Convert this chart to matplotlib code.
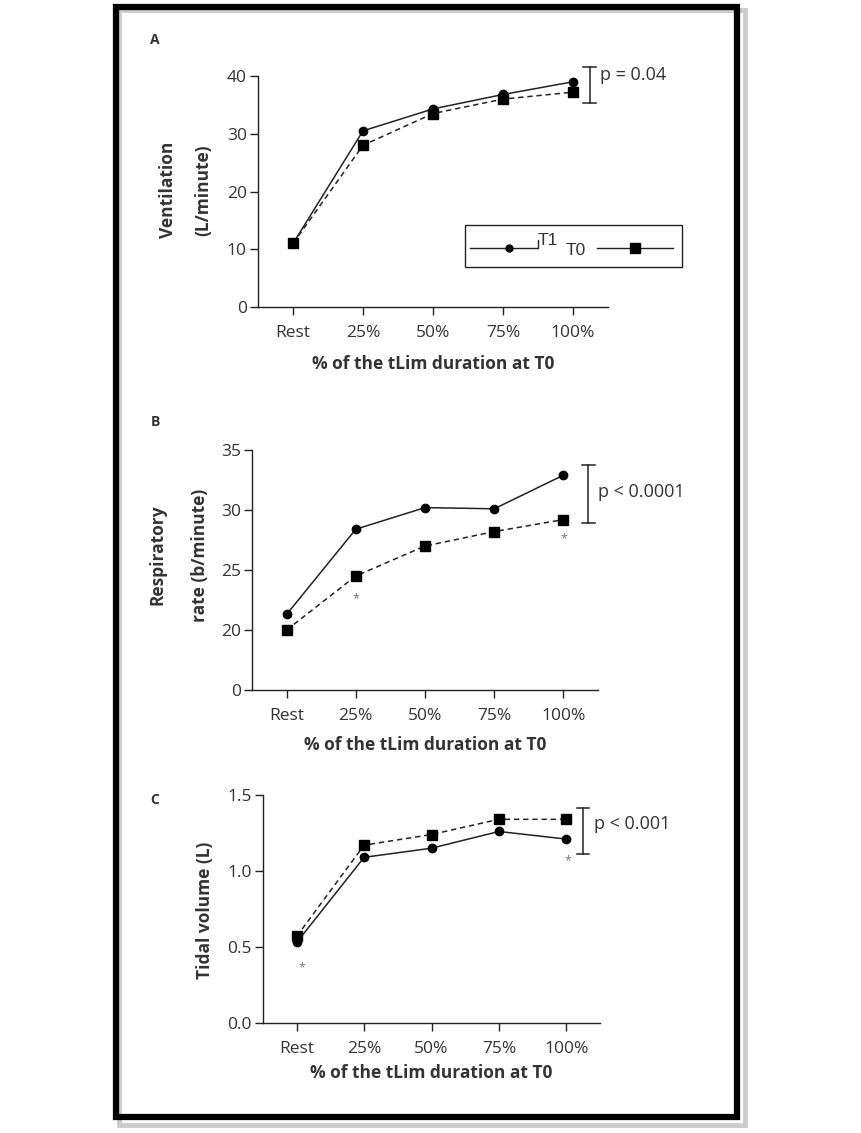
import matplotlib
matplotlib.use('Agg')
import matplotlib.pyplot as plt
from matplotlib.patches import Rectangle
from matplotlib.lines import Line2D

plt.rcParams['font.family'] = ['Open Sans', 'DejaVu Sans']

categories = ['Rest', '25%', '50%', '75%', '100%']

# Panel A - ventilation (L/minute)
vent_t1 = [11.0, 30.5, 34.3, 36.8, 39.0]
vent_t0 = [11.0, 28.0, 33.5, 36.0, 37.2]

# Panel B - respiratory rate (b/minute)
rr_t1 = [21.3, 28.4, 30.2, 30.1, 32.9]
rr_t0 = [20.0, 24.5, 27.0, 28.2, 29.2]

# Panel C - tidal volume (L)
vt_t1 = [0.53, 1.09, 1.15, 1.26, 1.21]
vt_t0 = [0.57, 1.17, 1.24, 1.34, 1.34]

W, H = 862, 1133
fig = plt.figure(figsize=(W / 100, H / 100), dpi=100)

ink = '#222222'
txt = '#333333'
xlab = '% of the tLim duration at T0'


def px_axes(left, right, top, bottom):
    return fig.add_axes([left / W, 1 - bottom / H, (right - left) / W, (bottom - top) / H])


def style(ax, xlabel_y):
    for s in ['top', 'right']:
        ax.spines[s].set_visible(False)
    for s in ['left', 'bottom']:
        ax.spines[s].set_color(ink)
        ax.spines[s].set_linewidth(1.0)
    ax.tick_params(direction='out', length=6, width=1.0, color=ink,
                   labelsize=12.5, labelcolor=txt, pad=2)
    ax.set_xlim(-0.5, 4.5)
    ax.set_xticks(range(len(categories)))
    ax.set_xticklabels(categories)
    ax.tick_params(axis='x', pad=7)
    ax.set_xlabel(xlab, fontsize=12.5, fontweight='bold', color=txt, va='center')
    ax.xaxis.set_label_coords(0.5, xlabel_y)


def draw_series(ax, t1, t0):
    x = range(len(categories))
    ax.plot(x, t1, '-', color=ink, lw=1.1, marker='o', ms=6, mfc='black', mec='black',
            clip_on=False, zorder=3)
    ax.plot(x, t0, '--', color=ink, lw=1.1, dashes=(3.5, 2.5), marker='s', ms=7.5,
            mfc='black', mec='black', clip_on=False, zorder=3)


def bracket(ax, x, y0, y1, label, tx, ty):
    ax.plot([x, x], [y0, y1], color=ink, lw=1.1, clip_on=False)
    for y in (y0, y1):
        ax.plot([x - 0.09, x + 0.09], [y, y], color=ink, lw=1.1, clip_on=False)
    ax.text(tx, ty, label, fontsize=13, color=txt, va='center', ha='left')


# ---- Panel A
axA = px_axes(258, 608, 76, 307)
style(axA, (307 - 364) / 231)
draw_series(axA, vent_t1, vent_t0)
axA.set_ylim(0, 40)
axA.set_yticks([0, 10, 20, 30, 40])
bracket(axA, 4.24, 35.3, 41.6, 'p = 0.04', 4.38, 40.2)

# legend box drawn by hand (T1 handle-then-label, T0 label-then-handle)
axA.add_patch(Rectangle((0.591, 0.173), 0.62, 0.182, transform=axA.transAxes,
                        fill=False, ec=ink, lw=1.0, clip_on=False))
ly = 0.255
axA.add_line(Line2D([0.606, 0.8, 0.8], [ly, ly, ly + 0.035], transform=axA.transAxes,
                    color=ink, lw=1.0, clip_on=False))
axA.add_line(Line2D([0.717], [ly], transform=axA.transAxes, marker='o', ms=5,
                    color='black', clip_on=False))
axA.text(0.8, ly + 0.035, 'T1', transform=axA.transAxes, fontsize=12.5,
         family=['Liberation Sans'], color=txt, va='center')
axA.text(0.88, ly - 0.01, 'T0', transform=axA.transAxes, fontsize=12.5,
         family=['Liberation Sans'], color=txt, va='center')
axA.add_line(Line2D([0.968, 1.186], [ly, ly], transform=axA.transAxes,
                    color=ink, lw=1.0, clip_on=False))
axA.add_line(Line2D([1.077], [ly], transform=axA.transAxes, marker='s', ms=7,
                    color='black', clip_on=False))

# ---- Panel B (broken axis: 0 shown at the 15 position)
axB = px_axes(252, 598, 450, 690)
style(axB, (690 - 745) / 240)
draw_series(axB, rr_t1, rr_t0)
axB.set_ylim(15, 35)
axB.set_yticks([15, 20, 25, 30, 35])
axB.set_yticklabels(['0', '20', '25', '30', '35'])
axB.text(1.0, 22.6, '*', ha='center', va='center', fontsize=9, color='#777777')
axB.text(4.0, 27.6, '*', ha='center', va='center', fontsize=9, color='#777777')
bracket(axB, 4.36, 28.9, 33.75, 'p < 0.0001', 4.5, 31.5)

# ---- Panel C
axC = px_axes(263, 600, 795, 1023)
style(axC, (1023 - 1073) / 228)
draw_series(axC, vt_t1, vt_t0)
axC.set_ylim(0, 1.5)
axC.set_yticks([0.0, 0.5, 1.0, 1.5])
axC.set_yticklabels(['0.0', '0.5', '1.0', '1.5'])
axC.text(0.07, 0.36, '*', ha='center', va='center', fontsize=9, color='#777777')
axC.text(4.02, 1.07, '*', ha='center', va='center', fontsize=9, color='#777777')
bracket(axC, 4.25, 1.112, 1.414, 'p < 0.001', 4.41, 1.31)

# y labels and panel letters
def ftext(x, y, s, **kw):
    fig.text(x / W, 1 - y / H, s, **kw)

ylab = dict(rotation=90, ha='center', va='center', fontsize=12.5, fontweight='bold', color=txt)
ftext(168, 190, 'Ventilation', **ylab)
ftext(203, 190, '(L/minute)', **ylab)
ftext(158, 555, 'Respiratory', **ylab)
ftext(200, 555, 'rate (b/minute)', **ylab)
ftext(205, 910, 'Tidal volume (L)', **ylab)

letter = dict(ha='center', va='center', fontsize=10, fontweight='bold', color=txt)
ftext(155, 40, 'A', **letter)
ftext(155, 422, 'B', **letter)
ftext(155, 800, 'C', **letter)

# frame with soft shadow
fig.patches.append(Rectangle((119 / W, 1 - 1125 / H), 626 / W, 1115 / H,
                             transform=fig.transFigure, fill=False, ec='#cccccc',
                             lw=3.5, zorder=0))
fig.patches.append(Rectangle((116 / W, 1 - 1117 / H), 621 / W, 1110 / H,
                             transform=fig.transFigure, fill=False, ec='black',
                             lw=4.5, zorder=1))

fig.savefig('out.png', dpi=100)
